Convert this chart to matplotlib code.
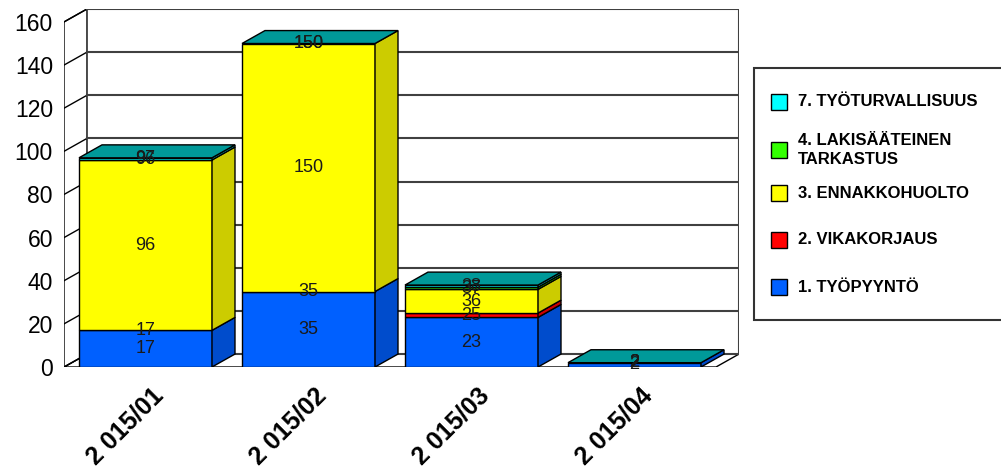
import matplotlib
matplotlib.use("Agg")
import matplotlib.pyplot as plt
from matplotlib.patches import Polygon, Rectangle

plt.rcParams['font.family'] = ['Liberation Sans', 'DejaVu Sans']

categories = ['2 015/01', '2 015/02', '2 015/03', '2 015/04']
series_names = ['1. TYÖPYYNTÖ', '2. VIKAKORJAUS', '3. ENNAKKOHUOLTO',
                '4. LAKISÄÄTEINEN\nTARKASTUS', '7. TYÖTURVALLISUUS']
tyopyynto = [17, 35, 23, 2]
vikakorjaus = [0, 0, 2, 0]
ennakkohuolto = [79, 115, 11, 0]
lakisaateinen = [0, 0, 1, 0]
tyoturvallisuus = [1, 0, 1, 0]
y_ticks = [0, 20, 40, 60, 80, 100, 120, 140, 160]

series = [tyopyynto, vikakorjaus, ennakkohuolto, lakisaateinen, tyoturvallisuus]
front_colors = ['#0060ff', '#ff0000', '#ffff00', '#33ff00', '#00ffff']
side_colors = ['#004ccc', '#cc0000', '#cccc00', '#29cc00', '#00cccc']
top_color = '#009999'

W, H = 1001, 471
fig = plt.figure(figsize=(W / 100, H / 100), dpi=100)
fig.patch.set_facecolor('white')

# 3D depth offset in data units
DX = 0.141
DY = 6.0
BW = 0.816
YMAX = 160

left_px, right_px, top_px, bot_px = 64, 739, 9, 367
ax = fig.add_axes([left_px / W, 1 - bot_px / H,
                   (right_px - left_px) / W, (bot_px - top_px) / H])
ax.set_xlim(-0.5, len(categories) - 0.5 + DX)
ax.set_ylim(0, YMAX + DY)
for s in ax.spines.values():
    s.set_visible(False)

x0, x1 = -0.5, len(categories) - 0.5

# floor
ax.add_patch(Polygon([(x0, 0), (x1, 0), (x1 + DX, DY), (x0 + DX, DY)],
                     closed=True, facecolor='white', edgecolor='black',
                     linewidth=1, zorder=1))
# left wall
ax.add_patch(Polygon([(x0, 0), (x0 + DX, DY), (x0 + DX, YMAX + DY), (x0, YMAX)],
                     closed=True, facecolor='white', edgecolor='black',
                     linewidth=1, zorder=1))
for v in y_ticks:
    ax.plot([x0, x0 + DX], [v, v + DY], color='black', lw=1, zorder=1)
    ax.plot([x0 + DX, x1 + DX], [v + DY, v + DY], color='#404040', lw=1.5, zorder=1)
ax.plot([x1 + DX, x1 + DX], [DY, YMAX + DY], color='#404040', lw=1.5, zorder=1)

# stacked 3D bars
for i, cat in enumerate(categories):
    bottom = 0
    xl, xr = i - BW / 2, i + BW / 2
    for k, vals in enumerate(series):
        h = vals[i]
        top = bottom + h
        if h > 0:
            ax.bar(i, h, bottom=bottom, width=BW, color=front_colors[k],
                   edgecolor='black', linewidth=1, zorder=3)
            ax.add_patch(Polygon([(xr, bottom), (xr + DX, bottom + DY),
                                  (xr + DX, top + DY), (xr, top)],
                                 closed=True, facecolor=side_colors[k],
                                 edgecolor='black', linewidth=1, zorder=3))
        bottom = top
    ax.add_patch(Polygon([(xl, bottom), (xr, bottom), (xr + DX, bottom + DY),
                          (xl + DX, bottom + DY)],
                         closed=True, facecolor=top_color, edgecolor='black',
                         linewidth=1, zorder=3))

# value labels (cumulative, centred in each segment)
for i in range(len(categories)):
    bottom = 0
    for vals in series:
        top = bottom + vals[i]
        ax.text(i, (bottom + top) / 2, str(top), ha='center', va='center',
                fontsize=13, color='#1a1a1a', zorder=6)
        bottom = top

ax.set_yticks(y_ticks)
ax.set_yticklabels([str(v) for v in y_ticks], fontsize=16.5)
ax.tick_params(axis='y', length=0, pad=8)
ax.set_xticks([])

for i, cat in enumerate(categories):
    ax.annotate(cat, (i, 0), xytext=(4, -12), textcoords='offset points',
                rotation=45, ha='right', va='top', rotation_mode='anchor',
                fontsize=18, fontweight='bold')

# legend box
fig.add_artist(Rectangle((754 / W, 1 - 320 / H), 260 / W, 252 / H,
                         transform=fig.transFigure, facecolor='white',
                         edgecolor='#333333', linewidth=1.5))
leg_y = [287, 240, 193, 150, 102]
for k, name in enumerate(series_names):
    yc = leg_y[k]
    fig.add_artist(Rectangle((771 / W, 1 - (yc + 8) / H), 16 / W, 16 / H,
                             transform=fig.transFigure, facecolor=front_colors[k],
                             edgecolor='black', linewidth=1))
    fig.text(798 / W, 1 - yc / H, name, ha='left', va='center',
             fontsize=12, fontweight='bold', linespacing=1.35)

fig.savefig('out.png', dpi=100)
